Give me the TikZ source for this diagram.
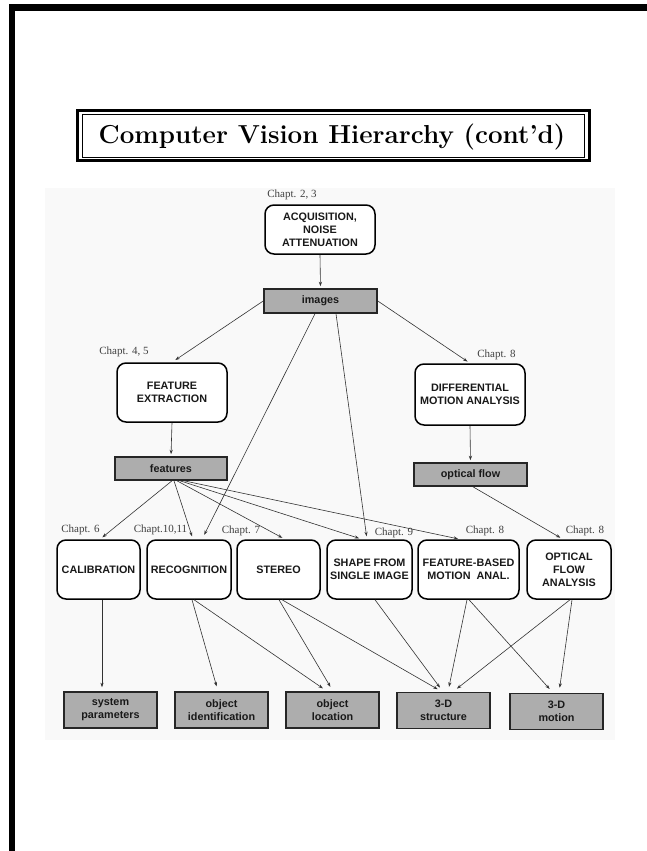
\documentclass[tikz,border=0pt]{standalone}
\usepackage{fontspec}
\newfontfamily\boxfont{Liberation Sans}
\newfontfamily\chfont{Liberation Serif}
\usetikzlibrary{arrows.meta,calc}
\begin{document}
\begin{tikzpicture}[x=1pt,y=-1pt,
  rbox/.style={draw=black, line width=1.5pt, rounded corners=9pt, fill=white, align=center, inner sep=0pt,
    font=\boxfont\bfseries\fontsize{10.8}{13}\selectfont, text=black!90},
  gbox/.style={draw=black!85, line width=1.6pt, fill=black!32, align=center, inner sep=0pt,
    font=\boxfont\bfseries\fontsize{10.8}{13}\selectfont, text=black!90},
  obox/.style={gbox, minimum width=93pt, minimum height=36pt},
  rowbox/.style={rbox, minimum height=59pt},
  chap/.style={font=\chfont\fontsize{11}{12}\selectfont, text=black!75, inner sep=0pt},
  arr/.style={-{Stealth[length=4.5pt,width=3.2pt]}, line width=0.6pt, draw=black!80, shorten >=4pt}
]
\useasboundingbox (0,0) rectangle (647,851);
% page frame
\fill[black] (9,4) rectangle (647,11);
\fill[black] (9,4) rectangle (15,851);
% title
\draw[line width=3pt] (77.5,110.5) rectangle (589.5,160.8);
\draw[line width=1.3pt] (82.7,114.7) rectangle (584.8,157.3);
\node[font=\fontsize{26}{30}\selectfont\bfseries, anchor=base, inner sep=0pt] (title) at (332,143) {Computer Vision Hierarchy (cont'd)};
% scanned figure background
\fill[black!2.5] (45,188) rectangle (615,740);

% top
\node[chap] (c23) at (292,195) {Chapt. 2, 3};
\node[rbox, minimum width=110pt, minimum height=49pt] (acq) at (320,229.5) {ACQUISITION,\\NOISE\\ATTENUATION};
\node[gbox, minimum width=113pt, minimum height=24pt] (img) at (320.5,301) {images};

% second level
\node[chap] (c45) at (124,352) {Chapt. 4, 5};
\node[rbox, minimum width=110pt, minimum height=59pt] (fe) at (172,392.5) {FEATURE\\EXTRACTION};
\node[chap] (c8a) at (496.5,355) {Chapt. 8};
\node[rbox, minimum width=110pt, minimum height=61pt] (dma) at (470,394.5) {DIFFERENTIAL\\MOTION ANALYSIS};
\node[gbox, minimum width=112pt, minimum height=23pt] (feat) at (171,468.5) {features};
\node[gbox, minimum width=113pt, minimum height=23pt] (of) at (470.5,474.5) {optical flow};

% third level
\node[chap] (c6) at (80.5,530) {Chapt. 6};
\node[chap] (c1011) at (160.5,530) {Chapt.10,11};
\node[chap] (c7) at (241,531) {Chapt. 7};
\node[chap] (c9) at (394,533) {Chapt. 9};
\node[chap] (c8b) at (485,531) {Chapt. 8};
\node[chap] (c8c) at (585,531) {Chapt. 8};
\node[rowbox, minimum width=83pt] (cal) at (98.5,569.5) {CALIBRATION};
\node[rowbox, minimum width=84pt] (rec) at (189,569.5) {RECOGNITION};
\node[rowbox, minimum width=83pt] (ste) at (278.5,569.5) {STEREO};
\node[rowbox, minimum width=85pt] (sha) at (369.5,569.5) {SHAPE FROM\\SINGLE IMAGE};
\node[rowbox, minimum width=101pt] (fbm) at (468.5,569.5) {FEATURE-BASED\\MOTION~~ANAL.};
\node[rowbox, minimum width=84pt] (ofa) at (569,569.5) {OPTICAL\\FLOW\\ANALYSIS};

% outputs
\node[obox] (sys) at (110.5,710) {system\\parameters};
\node[obox] (oid) at (221.5,710) {object\\identification};
\node[obox] (oloc) at (332.5,710) {object\\location};
\node[obox] (s3d) at (443.5,710.5) {3-D\\structure};
\node[obox] (m3d) at (556.5,711.5) {3-D\\motion};

% connectors
\draw[arr, shorten >=2pt] (acq.south) -- (img.north);
\draw[arr] (img.west) -- (fe.north);
\draw[arr, shorten >=3pt] (img.east) -- (dma.north);
\draw[arr, shorten >=5pt] ($(img.south)+(-5.5,0)$) -- ($(rec.north)+(13,0)$);
\draw[arr, shorten >=3pt] ($(img.south)+(15.5,0)$) -- ($(sha.north)+(-2.5,0)$);
\draw[arr, shorten >=2pt] (fe.south) -- (feat.north);
\draw[arr, shorten >=2pt] (dma.south) -- (of.north);
\draw[arr, shorten >=3pt] ($(feat.south)+(1,0)$) -- ($(cal.north)+(1.5,0)$);
\draw[arr, shorten >=3pt] ($(feat.south)+(3,0)$) -- ($(rec.north)+(4,0)$);
\draw[arr, shorten >=3pt] ($(feat.south)+(6,0)$) -- ($(ste.north)+(6.5,0)$);
\draw[arr, shorten >=3pt] ($(feat.south)+(9,0)$) -- ($(sha.north)+(-7.5,0)$);
\draw[arr, shorten >=2pt] ($(feat.south)+(13,0)$) -- ($(fbm.north)+(-8.5,0)$);
\draw[arr, shorten >=3pt] ($(of.south)+(2.5,0)$) -- ($(ofa.north)+(-6,0)$);
\draw[arr] ($(cal.south)+(3.5,0)$) -- ($(sys.north)+(-8.5,0)$);
\draw[arr, shorten >=5pt] ($(rec.south)+(3,0)$) -- ($(oid.north)+(-3.5,0)$);
\draw[arr, shorten >=5pt] ($(rec.south)+(5,0)$) -- ($(oloc.north)+(-5.5,0)$);
\draw[arr, shorten >=5pt] ($(ste.south)+(0.5,0)$) -- ($(oloc.north)+(0.5,0)$);
\draw[arr, shorten >=5pt] ($(ste.south)+(3.5,0)$) -- ($(s3d.north)+(-1.5,0)$);
\draw[arr, shorten >=5pt] ($(sha.south)+(5.5,0)$) -- ($(s3d.north)+(-0.5,0)$);
\draw[arr, shorten >=5pt] ($(fbm.south)+(-1.5,0)$) -- ($(s3d.north)+(4.5,0)$);
\draw[arr, shorten >=5pt] ($(fbm.south)+(0.5,0)$) -- ($(m3d.north)+(-3.5,0)$);
\draw[arr, shorten >=5pt] ($(ofa.south)+(1,0)$) -- ($(s3d.north)+(9.5,0)$);
\draw[arr, shorten >=5pt] ($(ofa.south)+(3,0)$) -- ($(m3d.north)+(2.5,0)$);
\end{tikzpicture}
\end{document}
